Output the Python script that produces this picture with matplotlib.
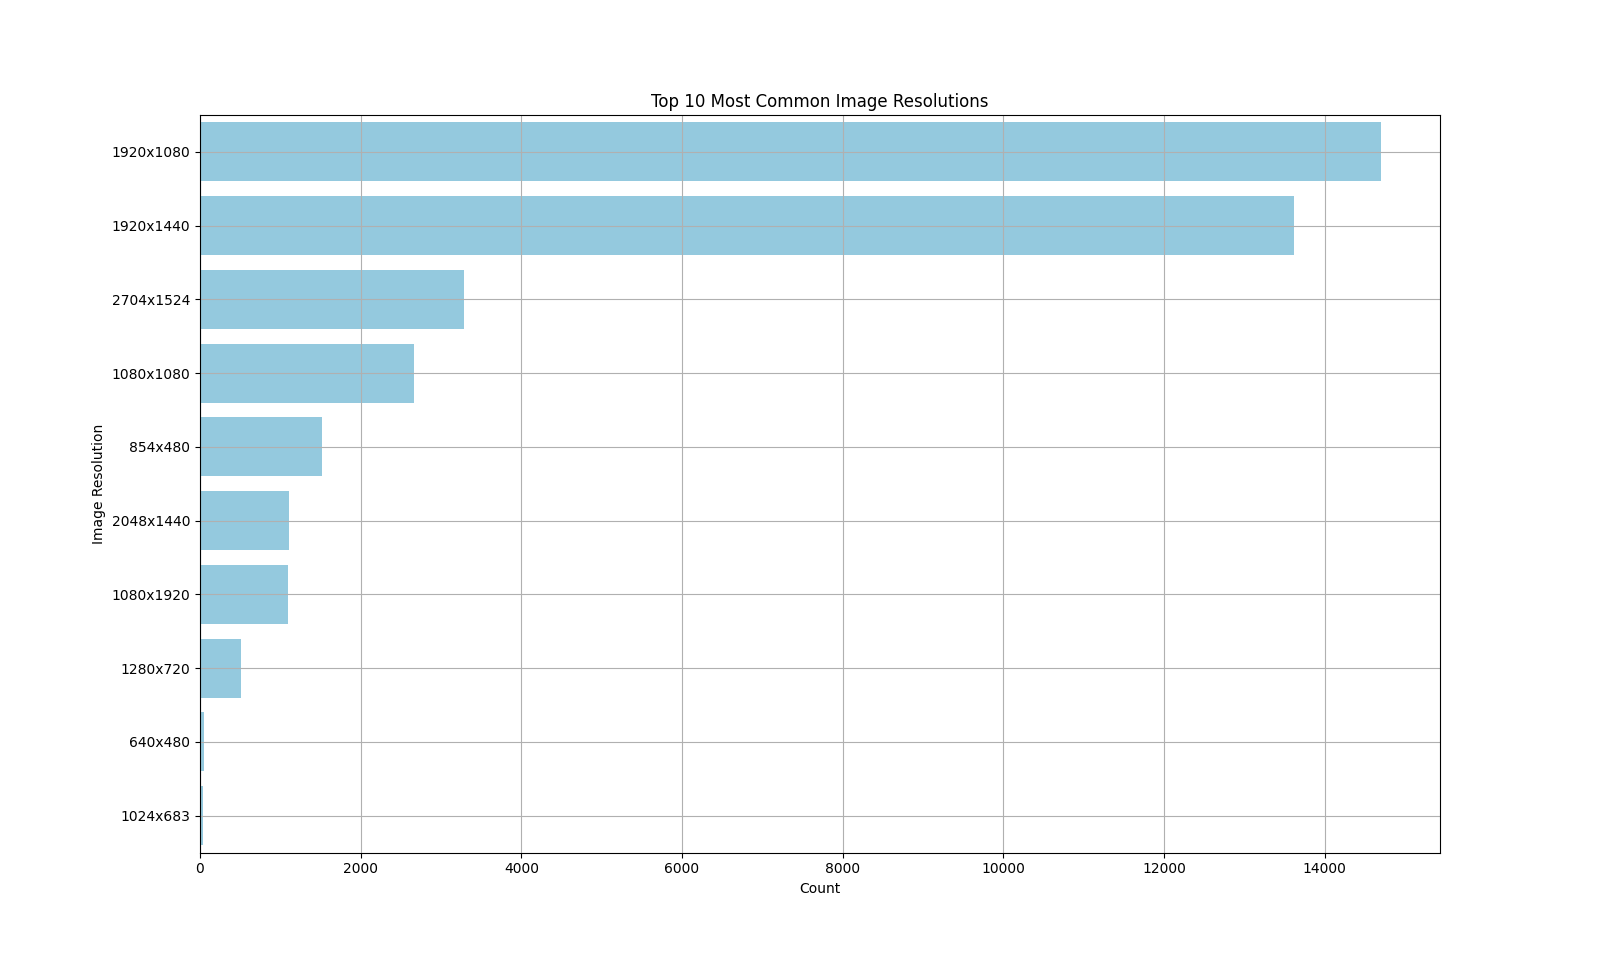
import matplotlib
matplotlib.use('Agg')
import matplotlib.pyplot as plt
import seaborn as sns
import pandas as pd

resolutions = ['1920x1080', '1920x1440', '2704x1524', '1080x1080', '854x480',
               '2048x1440', '1080x1920', '1280x720', '640x480', '1024x683']
counts = [14700, 13615, 3280, 2669, 1523, 1112, 1100, 514, 54, 41]

df = pd.DataFrame({'resolution': resolutions, 'count': counts})

plt.figure(figsize=(16, 9.58))
sns.barplot(data=df, x='count', y='resolution', color='skyblue')
plt.title('Top 10 Most Common Image Resolutions')
plt.xlabel('Count')
plt.ylabel('Image Resolution')
plt.grid(True)
plt.savefig('out.png', dpi=100)
